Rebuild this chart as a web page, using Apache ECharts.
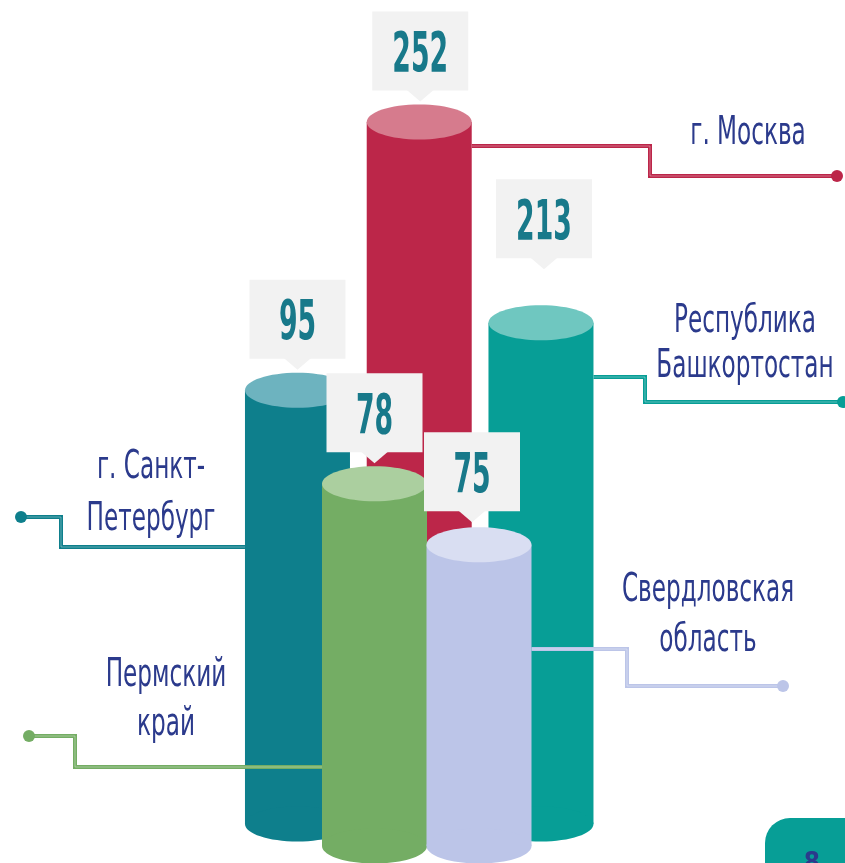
<!DOCTYPE html>
<html>
<head>
<meta charset="utf-8">
<script src="https://cdn.jsdelivr.net/npm/echarts@6/dist/echarts.min.js"></script>
<style>
  html, body { margin: 0; background: #fff; }
  #chart { width: 845px; height: 863px; }
</style>
</head>
<body>
<div id="chart"></div>
<script>
// back row first (Petersburg, Moscow, Bashkortostan), then the front row
const regions = ['г. Санкт-\nПетербург', 'г. Москва', 'Республика\nБашкортостан', 'Пермский\nкрай', 'Свердловская\nобласть']
const values = [95, 252, 213, 78, 75]
// column heights as drawn in the picture (it is not to scale), % of the tallest
const shownLevel = [61.8, 100, 71.4, 51.6, 42.9]

const backRow = [0, 1, 2]
const frontRow = [3, 4]

const bodyColors = ['#0e7f8c', '#bc2649', '#079e96', '#74ad64', '#bcc5e8']
const capColors = ['#6db3bf', '#d67b8d', '#6fc7c0', '#abcf9f', '#d9def2']
const NAME_COLOR = '#2b3a8c'
const NUM_COLOR = '#18798a'
const NARROW = '"DejaVu Sans Condensed", sans-serif'

const COL_RX = 52.5
const COL_RY = 17.5

// leader lines + region names (annotation layout, px)
const notes = [
  { side: 'left', y: 547, elbowX: 61, endY: 517, endX: 21, nameX: 151, nameY: 468, gap: 52 },
  { side: 'right', y: 146, elbowX: 650, endY: 176, endX: 837, nameX: 748, nameY: 134, gap: 0 },
  { side: 'right', y: 377, elbowX: 645, endY: 402, endX: 843, nameX: 745, nameY: 322, gap: 45 },
  { side: 'left', y: 767, elbowX: 75, endY: 736, endX: 29, nameX: 166, nameY: 676, gap: 49 },
  { side: 'right', y: 649, elbowX: 627, endY: 686, endX: 783, nameX: 708, nameY: 591, gap: 50 },
]
// nudges of the value callouts
const calloutShift = [[0, 0], [1, 0], [3, -33], [0, 0], [-7, -2]]

function columnRenderer(rowIdx) {
  return function (params, api) {
    const k = rowIdx[params.dataIndex]
    const top = api.coord([api.value(0), api.value(1)])
    const base = api.coord([api.value(0), 0])
    const cx = top[0]
    const children = []

    // cylinder
    children.push({ type: 'rect', shape: { x: cx - COL_RX, y: top[1], width: COL_RX * 2, height: base[1] - top[1] }, style: { fill: bodyColors[k] } })
    children.push({ type: 'ellipse', shape: { cx, cy: base[1], rx: COL_RX, ry: COL_RY }, style: { fill: bodyColors[k] } })
    children.push({ type: 'ellipse', shape: { cx, cy: top[1], rx: COL_RX, ry: COL_RY }, style: { fill: capColors[k] } })

    // leader line
    const n = notes[k]
    const sx = n.side === 'left' ? cx - COL_RX : cx + COL_RX
    const pts = [[sx, n.y], [n.elbowX, n.y], [n.elbowX, n.endY], [n.endX, n.endY]]
    children.push({ type: 'polyline', shape: { points: pts }, style: { stroke: bodyColors[k], lineWidth: 4, fill: null } })
    children.push({ type: 'polyline', shape: { points: pts }, style: { stroke: 'rgba(255,255,255,0.35)', lineWidth: 1, fill: null } })
    children.push({ type: 'circle', shape: { cx: n.endX, cy: n.endY, r: 6 }, style: { fill: bodyColors[k] } })

    // region name
    regions[k].split('\n').forEach((line, li) => {
      children.push({
        type: 'text', x: n.nameX, y: n.nameY + li * n.gap, scaleX: 0.66,
        style: { text: line, fill: NAME_COLOR, font: '39px ' + NARROW, align: 'center', verticalAlign: 'middle' },
      })
    })

    // value callout
    const sh = calloutShift[k]
    const bx = cx + sh[0]
    const tipY = top[1] - COL_RY - 3 + sh[1]
    const boxBottom = tipY - 11
    const boxTop = boxBottom - 79
    children.push({ type: 'rect', shape: { x: bx - 48, y: boxTop, width: 96, height: 79 }, style: { fill: '#f2f2f2' } })
    children.push({ type: 'polygon', shape: { points: [[bx - 14, boxBottom - 1], [bx + 14, boxBottom - 1], [bx, tipY]] }, style: { fill: '#f2f2f2' } })
    children.push({
      type: 'text', x: bx, y: boxTop + 45, scaleX: 0.53,
      style: { text: String(api.value(2)), fill: NUM_COLOR, font: 'bold 56px ' + NARROW, align: 'center', verticalAlign: 'middle' },
    })

    return { type: 'group', children }
  }
}

const chart = echarts.init(document.getElementById('chart'), null, { renderer: 'canvas' })

chart.setOption({
  animation: false,
  backgroundColor: '#ffffff',
  grid: [
    { left: 236.6, width: 365.25, top: 122, bottom: 39 },
    { left: 322.25, width: 209, top: 144, bottom: 17 },
  ],
  xAxis: [
    { type: 'category', gridIndex: 0, data: backRow.map(k => regions[k]), show: false },
    { type: 'category', gridIndex: 1, data: frontRow.map(k => regions[k]), show: false },
  ],
  yAxis: [
    { type: 'value', gridIndex: 0, min: 0, max: 100, show: false },
    { type: 'value', gridIndex: 1, min: 0, max: 100, show: false },
  ],
  series: [
    {
      type: 'custom',
      xAxisIndex: 0,
      yAxisIndex: 0,
      data: backRow.map((k, i) => [i, shownLevel[k], values[k]]),
      renderItem: columnRenderer(backRow),
    },
    {
      type: 'custom',
      xAxisIndex: 1,
      yAxisIndex: 1,
      data: frontRow.map((k, i) => [i, shownLevel[k], values[k]]),
      renderItem: columnRenderer(frontRow),
    },
  ],
  graphic: [
    { type: 'rect', shape: { x: 765, y: 818, width: 120, height: 80, r: 25 }, style: { fill: '#079e96' } },
    { type: 'text', x: 812, y: 851, style: { text: '8', fill: NAME_COLOR, font: 'bold 26px ' + NARROW, align: 'center', verticalAlign: 'top' } },
  ],
})
</script>
</body>
</html>
